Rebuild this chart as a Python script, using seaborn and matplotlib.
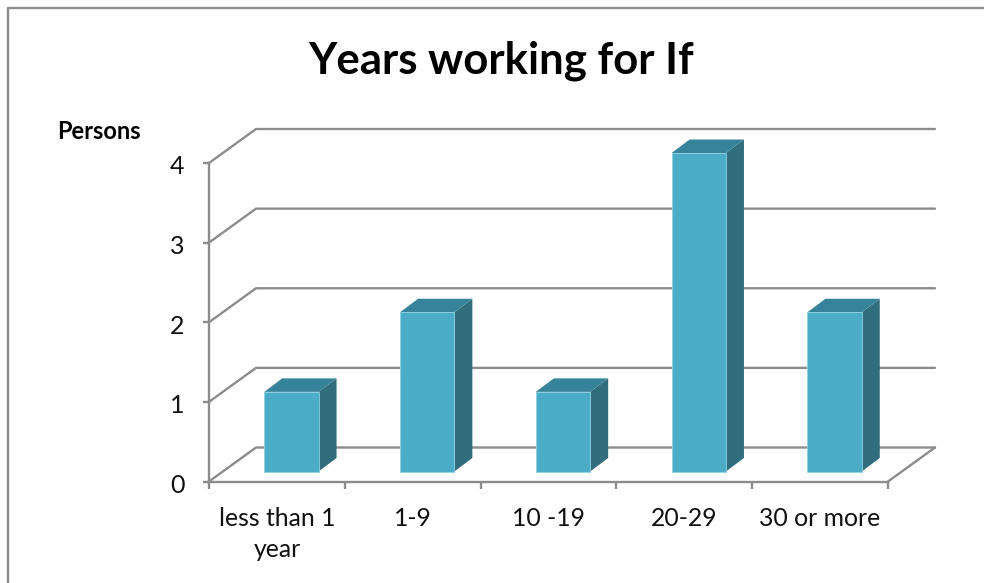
import numpy as np
import pandas as pd
import matplotlib
matplotlib.use("Agg")
import matplotlib.pyplot as plt
import seaborn as sns
from matplotlib.lines import Line2D
from matplotlib.patches import Polygon
from matplotlib.transforms import Affine2D, IdentityTransform

# data
years = ["less than 1\nyear", "1-9", "10 -19", "20-29", "30 or more"]
persons = [1, 2, 1, 4, 2]
y_ticks = [0, 1, 2, 3, 4]

# colours
GREY = "#8c8c8c"
FRONT = "#4aacc7"
SIDE = "#306e7e"
TOP = "#37849a"
TEXT = "#111111"

sns.set_style("white")
plt.rcParams["font.family"] = ["Lato", "DejaVu Sans"]

W, H = 984, 583
fig = plt.figure(figsize=(W / 100, H / 100), dpi=100)

# axes box in pixels: left, right, y=0, y=4
x0, x1, y_bot, y_top = 209, 888, 481.5, 163
ax = fig.add_axes([x0 / W, 1 - y_bot / H, (x1 - x0) / W, (y_bot - y_top) / H])

df = pd.DataFrame({"years": years, "persons": persons})
sns.barplot(data=df, x="years", y="persons", color=FRONT, width=0.4, saturation=1,
            edgecolor="#8ccfe0", linewidth=0.6, ax=ax, zorder=5)
ax.set_xlim(-0.5, 4.5)
ax.set_ylim(0, 4)

# 3d look: wall/floor depth and bar depth in pixels
wall = np.array([47, 34])
bar_shift = np.array([14.5, 10])
depth = np.array([18, 13.5])


def to_px(x, y):
    return ax.transData.transform((x, y))


# gridlines on the wall, floor edge
for v in y_ticks:
    a = to_px(-0.5, v)
    b = a + wall
    c = to_px(4.5, v) + wall
    ax.add_line(Line2D([a[0], b[0], c[0]], [a[1], b[1], c[1]], color=GREY, lw=1.7,
                       transform=IdentityTransform(), clip_on=False, zorder=1))
a = to_px(4.5, 0)
b = a + wall
ax.add_line(Line2D([a[0], b[0]], [a[1], b[1]], color=GREY, lw=1.7,
                   transform=IdentityTransform(), clip_on=False, zorder=1))

# move the bars off the axis and add side and top faces
shift = Affine2D().translate(*bar_shift)
for bar in list(ax.patches):
    bar.set_transform(ax.transData + shift)
    bar.set_clip_on(False)
    right = to_px(bar.get_x() + bar.get_width(), 0) + bar_shift
    top_r = to_px(bar.get_x() + bar.get_width(), bar.get_height()) + bar_shift
    top_l = to_px(bar.get_x(), bar.get_height()) + bar_shift
    ax.add_patch(Polygon([right, right + depth, top_r + depth, top_r], closed=True,
                         facecolor=SIDE, edgecolor="none",
                         transform=IdentityTransform(), clip_on=False, zorder=4))
    ax.add_patch(Polygon([top_l, top_l + depth, top_r + depth, top_r], closed=True,
                         facecolor=TOP, edgecolor="none",
                         transform=IdentityTransform(), clip_on=False, zorder=4))

# axes
sns.despine(ax=ax)
for s in ["left", "bottom"]:
    ax.spines[s].set_color(GREY)
    ax.spines[s].set_linewidth(1.7)
ax.set_xlabel("")
ax.set_ylabel("")
ax.set_yticks(y_ticks)
ax.set_yticklabels([str(v) for v in y_ticks], fontsize=18, color=TEXT)
ax.tick_params(axis="y", left=True, length=4.5, width=1.7, color=GREY, pad=13)
ax.set_xticks(np.arange(-0.5, 5), minor=True)
ax.tick_params(axis="x", which="minor", bottom=True, length=5, width=1.7, color=GREY)
ax.tick_params(axis="x", which="major", length=0, pad=18, labelsize=17.8, labelcolor=TEXT)
for label in ax.get_xticklabels():
    label.set_linespacing(1.45)
for label in ax.get_yticklabels():
    label.set_transform(label.get_transform() + Affine2D().translate(0, -2))

# title, axis title, chart frame
fig.text(501 / W, 1 - 61 / H, "Years working for If", fontsize=31.5, fontweight="bold",
         color="black", ha="center", va="center")
fig.text(57 / W, 1 - 132 / H, "Persons", fontsize=17, fontweight="bold",
         color="black", ha="left", va="center")
fig.add_artist(Line2D([8 / W, 8 / W, 1], [0, 1 - 8 / H, 1 - 8 / H], color=GREY, lw=1.7))

fig.savefig("out.png", dpi=100)
